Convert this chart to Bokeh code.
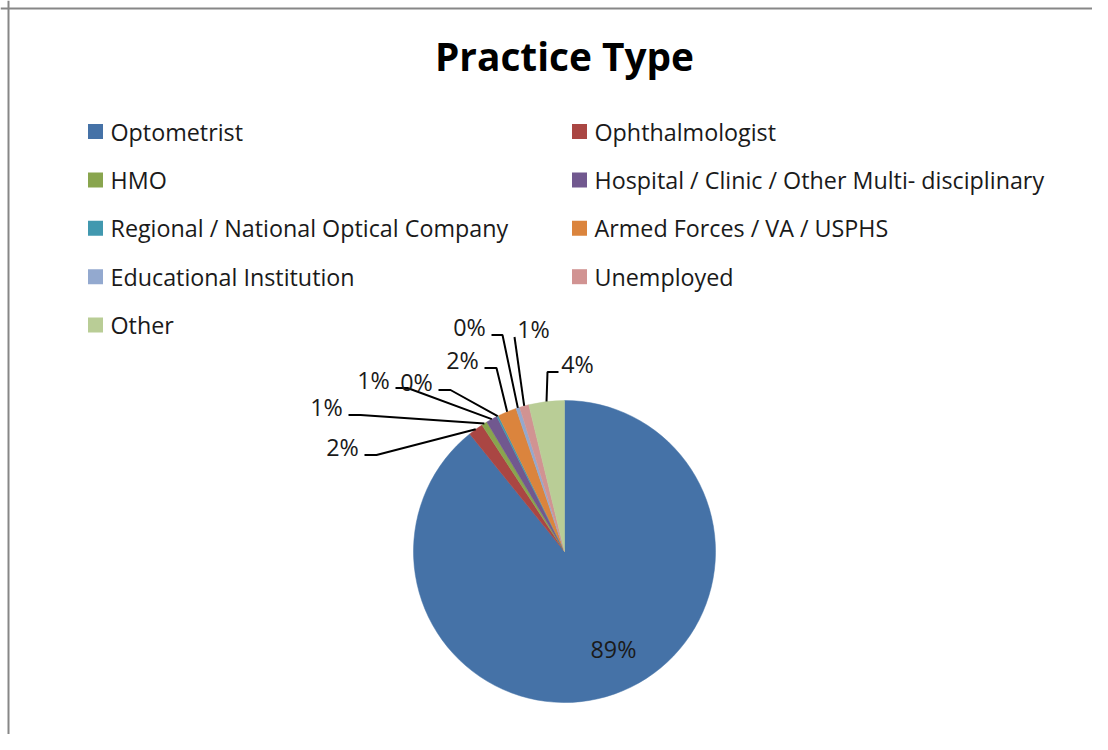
import math
from bokeh.plotting import figure
from bokeh.models import Range1d, Span, ColumnDataSource
from bokeh.core.properties import value
from bokeh.embed import file_html
from bokeh.resources import INLINE

# ---------------- data ----------------
title_text = "Practice Type"
categories = [
    "Optometrist",
    "Ophthalmologist",
    "HMO",
    "Hospital / Clinic / Other Multi- disciplinary",
    "Regional / National Optical Company",
    "Armed Forces / VA / USPHS",
    "Educational Institution",
    "Unemployed",
    "Other",
]
shares = [89.2, 1.6, 0.6, 1.2, 0.2, 2.0, 0.4, 1.0, 3.8]

# ---------------- styles / layout ----------------
colors = ["#4572A7", "#AA4643", "#89A54E", "#71588F", "#4198AF",
          "#DB843D", "#93A9CF", "#D19392", "#B9CD96"]
FONT = "Open Sans"
BODY_SIZE = 23.3
TITLE_SIZE = 38.8
W, H = 1092, 734
PIE_CENTER = (564, 551)      # picture pixels
PIE_R = 151
# label anchors (picture px): centre x, baseline y
label_anchor = [(613, 657), (342, 455), (326, 415), (373, 388), (416, 390),
                (462, 368), (469, 335), (533, 337), (577, 372)]
leader = [False, True, True, True, True, True, True, True, True]
leader_elbow = [0, 12, 12, 12, 12, 12, 11, 0, 11]
LEG_COL_X = [95, 579]
LEG_ROW0_Y = 131
LEG_ROW_STEP = 48.4
BORDER = 8


def px(X, Y):
    """picture pixel -> data coordinates"""
    return X, H - Y


p = figure(width=W, height=H, x_range=Range1d(0, W), y_range=Range1d(0, H),
           output_backend="svg", toolbar_location=None, min_border=0,
           x_axis_location=None, y_axis_location=None)
p.grid.visible = False
p.outline_line_color = None
p.background_fill_color = "white"
p.border_fill_color = "white"

# border (left + top, like the cropped Excel chart)
p.add_layout(Span(location=BORDER, dimension="height", line_color="#878787", line_width=2))
p.add_layout(Span(location=H - BORDER, dimension="width", line_color="#878787", line_width=2))

# title (cap-height centre)
tx, ty = px(564, 69 - 0.36 * TITLE_SIZE)
p.text(x=[tx], y=[ty], text=[title_text], text_font=value(FONT),
       text_font_size=f"{TITLE_SIZE}px", text_font_style="bold",
       text_align="center", text_baseline="middle", text_color="black")

# ---------------- pie ----------------
total = sum(shares)
cx, cy = px(*PIE_CENTER)
starts, ends, mids = [], [], []
cum = 0.0
for v in shares:
    c0 = cum / total
    cum += v
    c1 = cum / total
    starts.append(math.pi / 2 - 2 * math.pi * c1)
    ends.append(math.pi / 2 - 2 * math.pi * c0)
    mids.append(math.pi / 2 - 2 * math.pi * (c0 + c1) / 2)

src = ColumnDataSource(dict(start=starts, end=ends, color=colors, cat=categories, share=shares))
p.wedge(x=cx, y=cy, radius=PIE_R, start_angle="start", end_angle="end",
        fill_color="color", line_color="color", line_width=0.5, source=src)

# labels and leader lines
lab_x, lab_y, lab_t = [], [], []
lxs, lys = [], []
for i, v in enumerate(shares):
    ax, ay = px(*label_anchor[i])
    lab_x.append(ax)
    lab_y.append(ay + 0.36 * BODY_SIZE)
    lab_t.append(f"{round(v / total * 100)}%")
    if leader[i]:
        ex = cx + PIE_R * math.cos(mids[i])
        ey = cy + PIE_R * math.sin(mids[i])
        if ax < ex:
            sx = ax + 22
            bx = sx + leader_elbow[i]
        else:
            sx = ax - 19
            bx = sx - leader_elbow[i]
        sy = ay + 0.5
        lxs.append([sx, bx, ex])
        lys.append([sy, sy, ey])
p.multi_line(xs=lxs, ys=lys, line_color="black", line_width=2)
p.text(x=lab_x, y=lab_y, text=lab_t, text_font=value(FONT), text_font_size=f"{BODY_SIZE}px",
       text_align="center", text_baseline="middle", text_color="#1a1a1a")

# ---------------- legend (two columns, row-major) ----------------
sq_x, sq_y, tx_x, tx_y = [], [], [], []
for i, name in enumerate(categories):
    col, row = i % 2, i // 2
    X = LEG_COL_X[col]
    Y = LEG_ROW0_Y + row * LEG_ROW_STEP
    a, b = px(X, Y)
    sq_x.append(a)
    sq_y.append(b)
    t1, t2 = px(X + 15, Y)
    tx_x.append(t1)
    tx_y.append(t2)
p.rect(x=sq_x, y=sq_y, width=15, height=15, fill_color=colors, line_color=None)
p.text(x=tx_x, y=tx_y, text=categories, text_font=value(FONT), text_font_size=f"{BODY_SIZE}px",
       text_align="left", text_baseline="middle", text_color="#1a1a1a")

open("out.html", "w").write(file_html(p, INLINE))
